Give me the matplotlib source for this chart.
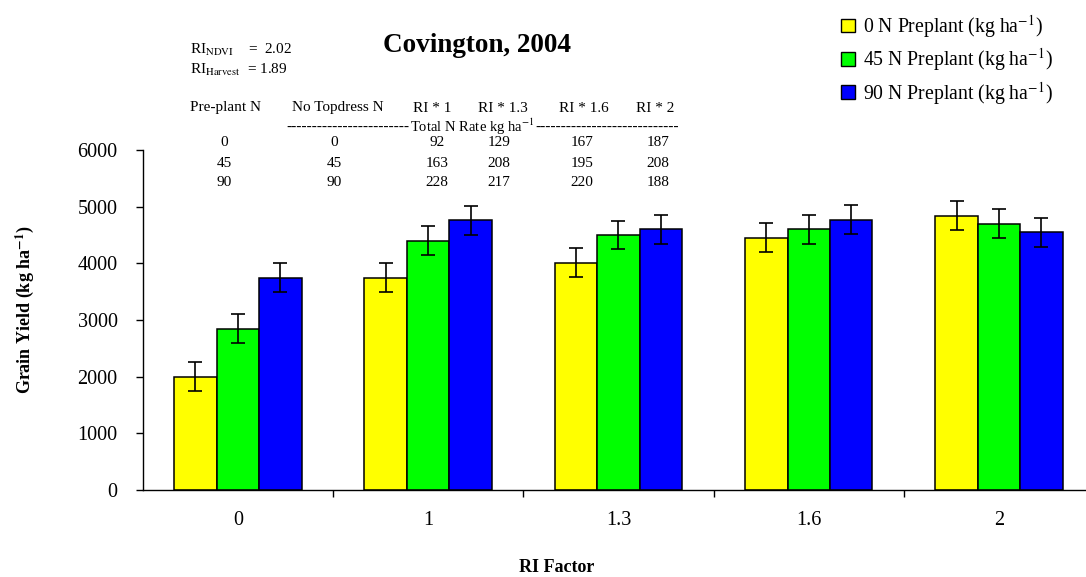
import matplotlib
matplotlib.use("Agg")
import matplotlib.pyplot as plt
from matplotlib.patches import Patch
import numpy as np

plt.rcParams['font.family'] = ['Liberation Serif', 'DejaVu Serif']
plt.rcParams['mathtext.fontset'] = 'stix'

# ---- data ----
categories = ['0', '1', '1.3', '1.6', '2']
series_labels = ['0 N Preplant (kg ha$^{-1}$)',
                 '45 N Preplant (kg ha$^{-1}$)',
                 '90 N Preplant (kg ha$^{-1}$)']
yield_0N = [2000, 3750, 4010, 4450, 4840]
yield_45N = [2850, 4400, 4500, 4600, 4700]
yield_90N = [3750, 4760, 4600, 4770, 4550]
err_0N = [255, 255, 255, 255, 255]
err_45N = [255, 255, 255, 255, 255]
err_90N = [255, 255, 255, 255, 255]
colors = ['#FFFF00', '#00FF00', '#0000FF']

table_header = ['Pre-plant N', 'No Topdress N', 'RI * 1', 'RI * 1.3', 'RI * 1.6', 'RI * 2']
table_rows = [['0', '0', '92', '129', '167', '187'],
              ['45', '45', '163', '208', '195', '208'],
              ['90', '90', '228', '217', '220', '188']]

W, H = 1086, 577
fig = plt.figure(figsize=(W / 100, H / 100), dpi=100)

def px(x, y):
    return x / W, 1 - y / H

ax = fig.add_axes([142.7 / W, 1 - 490 / H, 951.5 / W, 340 / H])

x = np.arange(len(categories))
bw = 0.223
series = [yield_0N, yield_45N, yield_90N]
errs = [err_0N, err_45N, err_90N]
for i, (vals, e, c) in enumerate(zip(series, errs, colors)):
    xs = x + (i - 1) * bw
    ax.bar(xs, vals, width=bw, color=c, edgecolor='black', linewidth=1.1, zorder=2)
    ax.errorbar(xs, vals, yerr=e, fmt='none', ecolor='black', elinewidth=1.2,
                capsize=4.7, capthick=1.2, zorder=3)

ax.set_xlim(-0.5, len(categories) - 0.5)
ax.set_ylim(0, 6000)
ax.set_yticks(np.arange(0, 6001, 1000))
ax.tick_params(axis='y', direction='out', length=5, width=1, pad=13, labelsize=14.5)
ax.set_xticks(x)
ax.set_xticklabels(categories)
ax.tick_params(axis='x', which='major', length=0, pad=15, labelsize=14.5)
ax.set_xticks(np.arange(0.5, len(categories) - 0.5, 1), minor=True)
ax.tick_params(axis='x', which='minor', direction='out', length=5, width=1)
for s in ['top', 'right']:
    ax.spines[s].set_visible(False)
ax.spines['left'].set_linewidth(1)
ax.spines['bottom'].set_linewidth(1)

# axis labels
fig.text(*px(25, 310), 'Grain Yield (kg ha$^{\\mathbf{-1}}$)', rotation=90,
         ha='center', va='center', fontsize=13, fontweight='bold')
fig.text(*px(557, 567), 'RI Factor', ha='center', va='center', fontsize=13,
         fontweight='bold')

# title
fig.text(*px(477, 46), 'Covington, 2004', ha='center', va='center', fontsize=19.5,
         fontweight='bold')

# RI annotations
fig.text(*px(190, 50), 'RI$_{\\mathrm{NDVI}}$    =  2.02', ha='left', va='center', fontsize=11)
fig.text(*px(190, 70), 'RI$_{\\mathrm{Harvest}}$  = 1.89', ha='left', va='center', fontsize=11)

# table
head_x = [226, 338, 432, 503, 584, 655]
col_x = [224, 334, 437, 499, 582, 658]
for hx, t in zip(head_x, table_header):
    fig.text(*px(hx, 108), t, ha='center', va='center', fontsize=11)
fig.text(*px(409, 127), '-' * 24, ha='right', va='center', fontsize=11)
fig.text(*px(472, 127), 'Total N Rate kg ha$^{-1}$', ha='center', va='center', fontsize=10.5)
fig.text(*px(535, 127), '-' * 28, ha='left', va='center', fontsize=11)
row_y = [143, 163, 182]
for ry, row in zip(row_y, table_rows):
    for cx, v in zip(col_x, row):
        fig.text(*px(cx, ry), v, ha='center', va='center', fontsize=11)

# legend
handles = [Patch(facecolor=c, edgecolor='black', linewidth=1) for c in colors]
fig.legend(handles, series_labels, loc='upper left', bbox_to_anchor=px(833, 5),
           frameon=False, fontsize=14.2, handlelength=0.7, handleheight=0.7,
           handletextpad=0.4, labelspacing=0.33, borderaxespad=0)

fig.savefig('out.png', dpi=100)
